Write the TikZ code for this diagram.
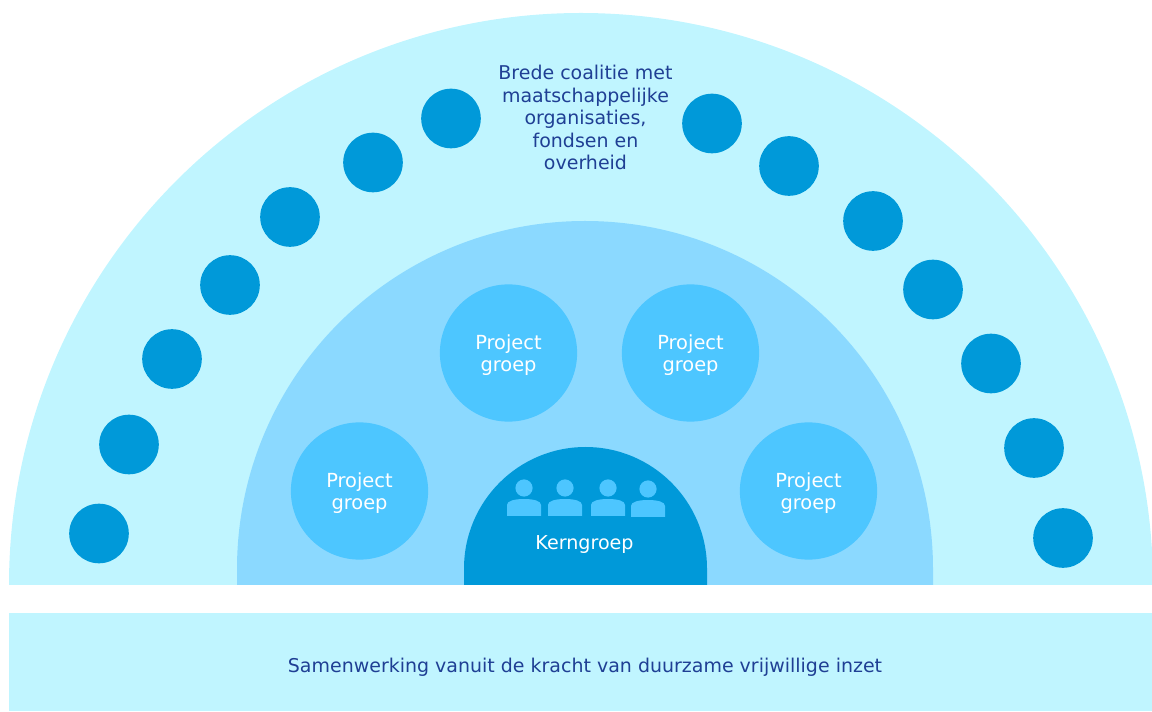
\documentclass[tikz,border=0pt]{standalone}
\usepackage{fontspec}
\setmainfont{DejaVu Sans}
\definecolor{coalitionblue}{RGB}{192, 245, 255}
\definecolor{coreblue}{RGB}{139, 217, 255}
\definecolor{projectblue}{RGB}{77, 198, 255}
\definecolor{kernblue}{RGB}{0, 153, 217}
\definecolor{textblue}{RGB}{31, 63, 148}
\usetikzlibrary{positioning}
\newcommand{\projectlabel}{\rule{0pt}{13.4pt}Project\\groep}
\tikzset{
  partner/.style={circle, fill=kernblue, minimum size=1.49cm, inner sep=0pt},
  projectgroep/.style={circle, fill=projectblue, minimum size=3.43cm, inner sep=0pt, text=white, align=center, font=\fontsize{13.8}{15.8}\selectfont},
  bluetext/.style={text=textblue, align=center, font=\fontsize{13.5}{16}\selectfont},
  head/.style={circle, fill=projectblue, minimum size=0.43cm, inner sep=0pt}
}
\begin{document}
\begin{tikzpicture}[x=0.025cm, y=0.025cm]
  \useasboundingbox (0, 0) rectangle (1152, 711);

  % half circles, largest first
  \fill[coalitionblue] (9, 126) arc[start angle=180, end angle=0, radius=572] -- cycle;
  \fill[coreblue] (237, 126) -- (237, 142) arc[start angle=180, end angle=0, radius=348] -- (933, 126) -- cycle;
  \fill[kernblue] (464, 126) -- (464, 142.5) arc[start angle=180, end angle=0, radius=121.5] -- (707, 126) -- cycle;
  \fill[coalitionblue] (9, 0) rectangle (1152, 98);

  % partners on the outer ring
  \foreach \name/\px/\py in {l1/99/177.5, l2/129/266.5, l3/172/352, l4/230/426, l5/290/494, l6/373/548.5, l7/451/592.5,
                             r1/712/587.5, r2/789/545, r3/873/490, r4/933/421.5, r5/991/347.5, r6/1034/263, r7/1063/173} {
    \node[partner] (\name) at (\px, \py) {};
  }

  \node[projectgroep] (project1) at (359.5, 220) {\projectlabel};
  \node[projectgroep] (project2) at (508.5, 358) {\projectlabel};
  \node[projectgroep] (project3) at (690.5, 358) {\projectlabel};
  \node[projectgroep] (project4) at (808.5, 220) {\projectlabel};

  % four people above the label
  \foreach \name/\px/\py in {a/524/223, b/565/223, c/608/223, d/648/222} {
    \node[head] (head\name) at (\px, \py) {};
    \fill[projectblue] (\px-17, \py-28) -- (\px-17, \py-17) .. controls (\px-17, \py-13) and (\px-10, \py-11) .. (\px, \py-11) .. controls (\px+10, \py-11) and (\px+17, \py-13) .. (\px+17, \py-17) -- (\px+17, \py-28) -- cycle;
  }

  \node[text=white, font=\fontsize{13.6}{15.8}\selectfont] (kerngroep) at (584.5, 166) {Kerngroep};
  \node[bluetext] (coalitie) at (585.5, 593.5) {Brede coalitie met\\maatschappelijke\\organisaties,\\fondsen en\\overheid};
  \node[bluetext] (samenwerking) at (585, 44) {Samenwerking vanuit de kracht van duurzame vrijwillige inzet};
\end{tikzpicture}
\end{document}
